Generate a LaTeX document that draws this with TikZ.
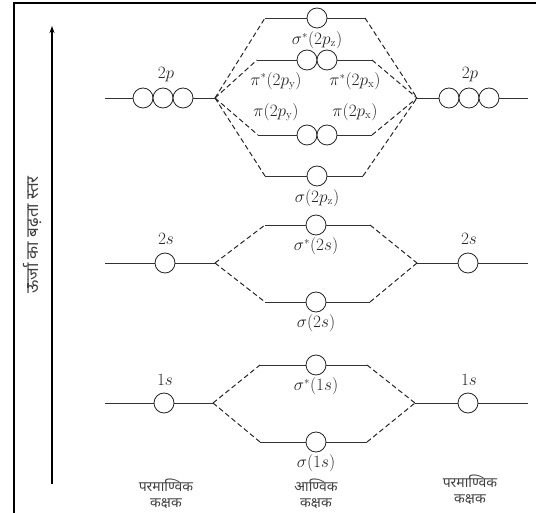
\documentclass[tikz,border=0pt]{standalone}
\usepackage{fontspec}
\newfontfamily\hindi[Script=Devanagari]{Noto Sans}
\usetikzlibrary{arrows.meta}
\begin{document}
\begin{tikzpicture}[x=1pt,y=-1pt,
  lvl/.style={line width=0.8pt, draw=black!80},
  orb/.style={circle, draw=black!85, line width=0.8pt, fill=white, minimum size=20pt, inner sep=0pt},
  conn/.style={line width=1pt, dash pattern=on 5pt off 3pt, draw=black!85},
  lab/.style={font=\fontsize{16}{18}\selectfont, text=black!85, inner sep=0pt},
  hlab/.style={font=\hindi\fontsize{14}{15.5}\selectfont, text=black!75, align=center, inner sep=0pt}]
\useasboundingbox (0,0) rectangle (536,513);
% frame
\draw[line width=2pt] (14,520) -- (14,3) -- (545,3);
% energy axis
\coordinate (axb) at (52,484);
\coordinate (axt) at (52,26);
\draw[line width=1.3pt, -{Stealth[length=7pt,width=5pt]}] (axb) -- (axt);
\node[hlab, rotate=90, font=\hindi\fontsize{17}{19}\selectfont] (elab) at (33,235) {ऊर्जा का बढ़ता स्तर};

% ---------- 2p atomic ----------
\coordinate (L2pa) at (105,98); \coordinate (L2pb) at (215,98);
\draw[lvl] (L2pa) -- (L2pb);
\node[orb] (L2p1) at (143,98) {}; \node[orb] (L2p2) at (163,98) {}; \node[orb] (L2p3) at (183,98) {};
\node[lab] (L2pl) at (166,75) {$2p$};
\coordinate (R2pa) at (417,98); \coordinate (R2pb) at (528,98);
\draw[lvl] (R2pa) -- (R2pb);
\node[orb] (R2p1) at (449,98) {}; \node[orb] (R2p2) at (469,98) {}; \node[orb] (R2p3) at (489,98) {};
\node[lab] (R2pl) at (470,75) {$2p$};

% ---------- 2p molecular ----------
\coordinate (SApza) at (265,18); \coordinate (SApzb) at (365,18);
\draw[lvl] (SApza) -- (SApzb);
\node[orb] (SApz) at (317,18) {};
\node[lab] (SApzl) at (317,40) {$\sigma^{*}(2p_{\mathrm{z}})$};

\coordinate (PAa) at (257,60); \coordinate (PAb) at (372,60);
\draw[lvl] (PAa) -- (PAb);
\node[orb] (PAy) at (307,60) {}; \node[orb] (PAx) at (327,60) {};
\node[lab] (PAyl) at (276,81) {$\pi^{*}(2p_{\mathrm{y}})$};
\node[lab] (PAxl) at (355,81) {$\pi^{*}(2p_{\mathrm{x}})$};

\coordinate (Pa) at (258,135); \coordinate (Pb) at (372,135);
\draw[lvl] (Pa) -- (Pb);
\node[orb] (Py) at (307,135) {}; \node[orb] (Px) at (327,135) {};
\node[lab] (Pyl) at (276,112) {$\pi(2p_{\mathrm{y}})$};
\node[lab] (Pxl) at (355,112) {$\pi(2p_{\mathrm{x}})$};

\coordinate (Spza) at (265,176); \coordinate (Spzb) at (363,176);
\draw[lvl] (Spza) -- (Spzb);
\node[orb] (Spz) at (317,176) {};
\node[lab] (Spzl) at (317,198) {$\sigma(2p_{\mathrm{z}})$};

\draw[conn] (L2pb) -- (SApza);
\draw[conn] (L2pb) -- (PAa);
\draw[conn] (L2pb) -- (Pa);
\draw[conn] (L2pb) -- (Spza);
\draw[conn] (SApzb) -- (R2pa);
\draw[conn] (PAb) -- (R2pa);
\draw[conn] (Pb) -- (R2pa);
\draw[conn] (Spzb) -- (R2pa);

% ---------- 2s ----------
\coordinate (L2sa) at (105,263); \coordinate (L2sb) at (215,263);
\draw[lvl] (L2sa) -- (L2sb);
\node[orb] (L2s) at (165,263) {};
\node[lab] (L2sl) at (166,239) {$2s$};
\coordinate (R2sa) at (417,263); \coordinate (R2sb) at (528,263);
\draw[lvl] (R2sa) -- (R2sb);
\node[orb] (R2s) at (468,263) {};
\node[lab] (R2sl) at (469,239) {$2s$};

\coordinate (SA2sa) at (265,225); \coordinate (SA2sb) at (370,225);
\draw[lvl] (SA2sa) -- (SA2sb);
\node[orb] (SA2s) at (316,225) {};
\node[lab] (SA2sl) at (316,246) {$\sigma^{*}(2s)$};
\coordinate (S2sa) at (265,302); \coordinate (S2sb) at (370,302);
\draw[lvl] (S2sa) -- (S2sb);
\node[orb] (S2s) at (316,302) {};
\node[lab] (S2sl) at (316,323) {$\sigma(2s)$};

\draw[conn] (L2sb) -- (SA2sa);
\draw[conn] (L2sb) -- (S2sa);
\draw[conn] (SA2sb) -- (R2sa);
\draw[conn] (S2sb) -- (R2sa);

% ---------- 1s ----------
\coordinate (L1sa) at (105,403); \coordinate (L1sb) at (213,403);
\draw[lvl] (L1sa) -- (L1sb);
\node[orb] (L1s) at (164,403) {};
\node[lab] (L1sl) at (165,380) {$1s$};
\coordinate (R1sa) at (415,403); \coordinate (R1sb) at (528,403);
\draw[lvl] (R1sa) -- (R1sb);
\node[orb] (R1s) at (468,403) {};
\node[lab] (R1sl) at (469,380) {$1s$};

\coordinate (SA1sa) at (260,365); \coordinate (SA1sb) at (367,365);
\draw[lvl] (SA1sa) -- (SA1sb);
\node[orb] (SA1s) at (316,365) {};
\node[lab] (SA1sl) at (316,386) {$\sigma^{*}(1s)$};
\coordinate (S1sa) at (260,442); \coordinate (S1sb) at (367,442);
\draw[lvl] (S1sa) -- (S1sb);
\node[orb] (S1s) at (316,442) {};
\node[lab] (S1sl) at (316,463) {$\sigma(1s)$};

\draw[conn] (L1sb) -- (SA1sa);
\draw[conn] (L1sb) -- (S1sa);
\draw[conn] (SA1sb) -- (R1sa);
\draw[conn] (S1sb) -- (R1sa);

% ---------- bottom labels ----------
\node[hlab] (bl) at (166,494) {परमाण्विक\\कक्षक};
\node[hlab] (bm) at (316,494) {आण्विक\\कक्षक};
\node[hlab] (br) at (470,490) {परमाण्विक\\कक्षक};
\end{tikzpicture}
\end{document}
